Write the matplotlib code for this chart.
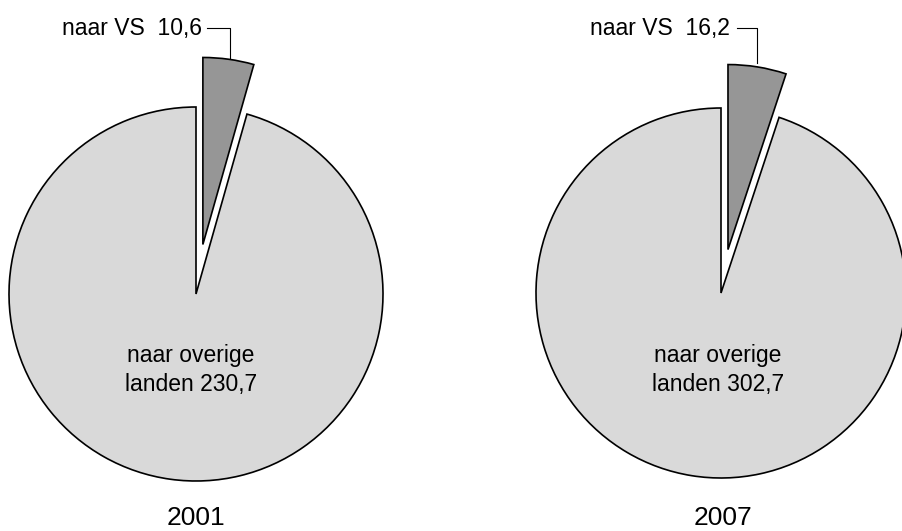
import matplotlib.pyplot as plt

# export values (naar VS / naar overige landen)
years = ['2001', '2007']
naar_vs = [10.6, 16.2]
naar_overig = [230.7, 302.7]

W, H = 902, 531

def fmt(v):
    return ('%.1f' % v).replace('.', ',')

def Y(y):
    # pixel row -> data y (axes runs bottom-up)
    return H - y

plt.rcParams['font.family'] = ['Liberation Sans', 'DejaVu Sans']

fig = plt.figure(figsize=(W / 100, H / 100), dpi=100)
ax = fig.add_axes([0, 0, 1, 1])

# layout per pie: centre, radius, explode (data units = px), leader line, text centres
layout = [
    dict(cx=196, cy=294, r=187, explode=50, lx=(207, 230), ly_end=58, vs_right=202, lab_x=191, year_x=196),
    dict(cx=721, cy=293, r=185, explode=44, lx=(737, 757), ly_end=63, vs_right=730, lab_x=718, year_x=723),
]

for i, L in enumerate(layout):
    ax.pie([naar_vs[i], naar_overig[i]],
           colors=['#969696', '#d9d9d9'],
           explode=[L['explode'], 0],
           startangle=90, counterclock=False,
           center=(L['cx'], Y(L['cy'])), radius=L['r'],
           wedgeprops=dict(edgecolor='black', linewidth=1.2))

    # label for the exploded slice with leader line
    ax.text(L['vs_right'], Y(28), 'naar VS  ' + fmt(naar_vs[i]),
            ha='right', va='center', fontsize=16.5)
    x0, x1 = L['lx']
    ax.plot([x0, x1, x1], [Y(28), Y(28), Y(L['ly_end'])], color='black', lw=0.8)

    ax.text(L['lab_x'], Y(370), 'naar overige\nlanden ' + fmt(naar_overig[i]),
            ha='center', va='center', fontsize=16.5, linespacing=1.35)

    ax.text(L['year_x'], Y(518), years[i], ha='center', va='center', fontsize=19)

ax.set_aspect('equal')
ax.set_xlim(0, W)
ax.set_ylim(0, H)
ax.axis('off')

fig.savefig('out.png', dpi=100, facecolor='white')
